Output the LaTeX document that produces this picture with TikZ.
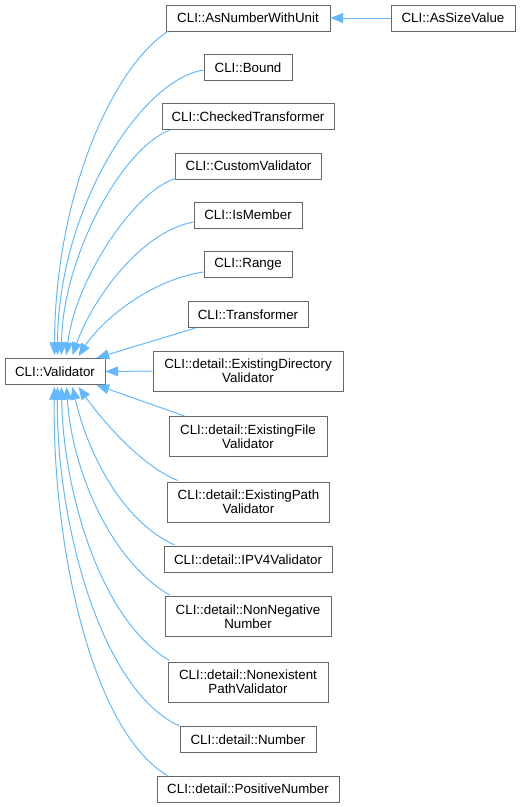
\documentclass[tikz,border=0pt]{standalone}
\usepackage{fontspec}
\setmainfont{Liberation Sans}
\usetikzlibrary{arrows.meta,calc}
\definecolor{edgeblue}{HTML}{63B8FF}
\definecolor{boxgray}{HTML}{666666}
\tikzset{
  cls/.style={draw=boxgray, line width=0.75pt, fill=white, inner sep=0pt,
    minimum height=19.5pt, align=center, font=\fontsize{10}{10.7}\selectfont},
  cls2/.style={cls, minimum height=30pt},
  inh/.style={draw=edgeblue, line width=0.75pt, -{Triangle[length=9.5pt,width=7.5pt]}},
}
\begin{document}
\begin{tikzpicture}[x=0.75pt,y=-0.75pt]
\useasboundingbox (0,0) rectangle (521,807);
\node[cls, minimum width=123pt] (asn) at (248,18) {CLI::AsNumberWithUnit};
\node[cls, minimum width=93pt] (asv) at (453,18) {CLI::AsSizeValue};
\node[cls, minimum width=66pt] (bnd) at (248,67.5) {CLI::Bound};
\node[cls, minimum width=129pt] (chk) at (248,116.5) {CLI::CheckedTransformer};
\node[cls, minimum width=110pt] (cus) at (248.5,166) {CLI::CustomValidator};
\node[cls, minimum width=81pt] (ism) at (248,215) {CLI::IsMember};
\node[cls, minimum width=66pt] (rng) at (248,264.5) {CLI::Range};
\node[cls, minimum width=90pt] (trf) at (248,314.5) {CLI::Transformer};
\node[cls, minimum width=75pt] (val) at (55,371.5) {CLI::Validator};
\node[cls2, minimum width=142.5pt] (edv) at (248,371) {CLI::detail::ExistingDirectory\\Validator};
\node[cls2, minimum width=118.5pt] (efv) at (248,436.5) {CLI::detail::ExistingFile\\Validator};
\node[cls2, minimum width=122pt] (epv) at (248.5,502) {CLI::detail::ExistingPath\\Validator};
\node[cls, minimum width=126pt] (ipv) at (248,559.5) {CLI::detail::IPV4Validator};
\node[cls2, minimum width=124.5pt] (nnn) at (248,616.5) {CLI::detail::NonNegative\\Number};
\node[cls2, minimum width=120pt] (npv) at (248,682) {CLI::detail::Nonexistent\\PathValidator};
\node[cls, minimum width=102pt] (num) at (248,739.5) {CLI::detail::Number};
\node[cls, minimum width=136.5pt] (pos) at (248,789) {CLI::detail::PositiveNumber};

\draw[inh] (asv.west) -- (asn.east);

% upper edges
\draw[inh] ($(asn.south west)+(2,0)$) .. controls (110,70) and (55,200) .. ($(val.north west)+(50,-3)$);
\draw[inh] ($(bnd.west)+(0,2.5)$) .. controls (140,80) and (58,210) .. ($(val.north west)+(53,-3)$);
\draw[inh] ($(chk.south west)+(8,0)$) .. controls (120,150) and (62,260) .. ($(val.north west)+(57,-3)$);
\draw[inh] ($(cus.south west)+(1,-1)$) .. controls (135,190) and (75,280) .. ($(val.north west)+(62,-3)$);
\draw[inh] ($(ism.west)+(0,7)$) .. controls (140,232) and (92,300) .. ($(val.north west)+(68,-3)$);
\draw[inh] ($(rng.west)+(0,7.5)$) .. controls (150,280) and (102,320) .. ($(val.north west)+(74,-2)$);
\draw[inh] ($(trf.south west)+(8,0)$) -- ($(val.north west)+(92,0)$);
\draw[inh] (edv.west) -- (val.east);
\draw[inh] ($(efv.north west)+(16,0)$) -- ($(val.south west)+(92,0)$);

% lower edges
\draw[inh] ($(epv.north west)+(11,-1)$) .. controls (140,465) and (102,420) .. ($(val.south west)+(74,2)$);
\draw[inh] ($(ipv.north west)+(11,-1)$) .. controls (120,520) and (87,450) .. ($(val.south west)+(68,2)$);
\draw[inh] ($(nnn.north west)+(5,-1)$) .. controls (110,560) and (72,470) .. ($(val.south west)+(62,2)$);
\draw[inh] ($(npv.north west)+(2,-1)$) .. controls (100,620) and (63,490) .. ($(val.south west)+(57,2)$);
\draw[inh] ($(num.north west)+(0,0)$) .. controls (100,690) and (56,520) .. ($(val.south west)+(53,2)$);
\draw[inh] ($(pos.north west)+(11,0)$) .. controls (90,730) and (52,540) .. ($(val.south west)+(50,2)$);
\end{tikzpicture}
\end{document}
